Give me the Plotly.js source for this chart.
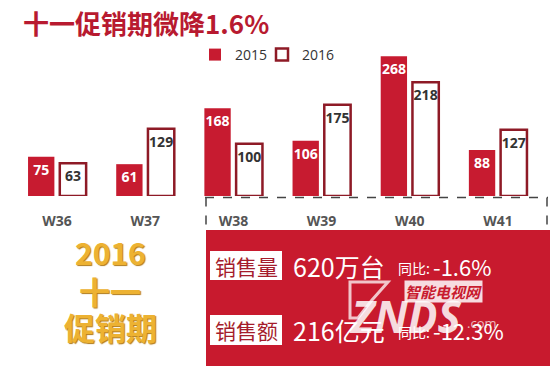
<!DOCTYPE html>
<html><head><meta charset="utf-8">
<script src="https://cdn.plot.ly/plotly-3.0.1.min.js"></script>
<style>html,body{margin:0;padding:0;background:#fff}#c{width:550px;height:366px}</style>
</head><body><div id="c"></div>
<script>
const weeks = ['W36','W37','W38','W39','W40','W41'];
const v2015 = [75, 61, 168, 106, 268, 88];
const v2016 = [63, 129, 100, 175, 218, 127];
const seriesNames = ['2015','2016'];
const titleText = '十一促销期微降1.6%';
const sideLines = ['2016','十一','促销期'];
const panelRows = [
  {label:'销售量', value:'620万台', yoyLabel:'同比:', yoy:'-1.6%'},
  {label:'销售额', value:'216亿元', yoyLabel:'同比:', yoy:'-12.3%'}
];

const W=550,H=366,L=13,R=8,T=40,B=170;
const pw=W-L-R, ph=H-T-B;
const px=x=>(x-L)/pw, py=y=>(H-B-y)/ph;
const CJK='"Noto Sans CJK SC", "Open Sans", sans-serif';
const RED='#C71B30', DARK='#8E1A26';

const traces=[
 {type:'bar',name:seriesNames[0],x:weeks,y:v2015,marker:{color:RED,line:{width:0}},legend:'legend',
  texttemplate:'<b>%{y}</b>',textposition:'inside',insidetextanchor:'end',constraintext:'none',textangle:0,
  textfont:{color:'#fff',size:14,family:'"Open Sans", sans-serif'},hoverinfo:'skip'},
 {type:'bar',name:seriesNames[1],x:weeks,y:v2016,marker:{color:'#fff',line:{width:2.5,color:DARK}},legend:'legend2',
  texttemplate:'<b>%{y}</b>',textposition:'inside',insidetextanchor:'end',constraintext:'none',textangle:0,
  textfont:{color:'#333',size:14,family:'"Open Sans", sans-serif'},hoverinfo:'skip'}
];

const shapes=[
 {type:'rect',xref:'paper',yref:'paper',x0:px(206),x1:px(551),y0:py(367),y1:py(230),fillcolor:'#C81A2E',line:{width:0},layer:'below'},
 {type:'line',xref:'paper',yref:'paper',x0:px(205),x1:px(548),y0:py(197.5),y1:py(197.5),line:{color:'#444',width:1.5,dash:'dash'}},
 {type:'line',xref:'paper',yref:'paper',x0:px(206),x1:px(206),y0:py(197.5),y1:py(232),line:{color:'#444',width:1.5,dash:'dash'}},
 {type:'line',xref:'paper',yref:'paper',x0:px(547),x1:px(547),y0:py(197.5),y1:py(232),line:{color:'#444',width:1.5,dash:'dash'}},
 {type:'rect',xref:'paper',yref:'paper',x0:px(210),x1:px(282),y0:py(280),y1:py(251),fillcolor:'#fff',line:{width:0}},
 {type:'rect',xref:'paper',yref:'paper',x0:px(210),x1:px(282),y0:py(345),y1:py(315),fillcolor:'#fff',line:{width:0}},
 // watermark TV outline
 {type:'path',xref:'paper',yref:'paper',path:'M '+px(350)+','+py(282)+' L '+px(388)+','+py(282)+' L '+px(372)+','+py(300)+' L '+px(358)+','+py(318)+' L '+px(350)+','+py(318)+' Z',
  fillcolor:'rgba(255,255,255,0)',line:{color:'rgba(255,255,255,0.75)',width:3}}
];

const ann=[
 {text:'<b>'+titleText+'</b>',xref:'paper',yref:'paper',x:px(21),y:py(23),xanchor:'left',yanchor:'middle',showarrow:false,
  font:{family:CJK,size:26,color:'#B81A30'}}
];
const sideY=[252,290,326];
sideLines.forEach((t,i)=>ann.push({text:'<b>'+t+'</b>',xref:'paper',yref:'paper',x:px(110),y:py(sideY[i]),xanchor:'center',yanchor:'middle',showarrow:false,
  font:{family:CJK,size:i===0?30:31,color:'#EDB232',shadow:'1px 1px 1px #B07A18'}}));
const rowY=[266,330];
panelRows.forEach((r,i)=>{
 ann.push({text:r.label,xref:'paper',yref:'paper',x:px(246),y:py(rowY[i]),xanchor:'center',yanchor:'middle',showarrow:false,font:{family:CJK,size:21,color:'#A51C2C'}});
 ann.push({text:r.value,xref:'paper',yref:'paper',x:px(291),y:py(rowY[i]),xanchor:'left',yanchor:'middle',showarrow:false,font:{family:CJK,size:25,color:'#fff'}});
 ann.push({text:r.yoyLabel,xref:'paper',yref:'paper',x:px(396),y:py(rowY[i]+2),xanchor:'left',yanchor:'middle',showarrow:false,font:{family:CJK,size:14,color:'#fff'}});
 ann.push({text:r.yoy,xref:'paper',yref:'paper',x:px(431),y:py(rowY[i]),xanchor:'left',yanchor:'middle',showarrow:false,font:{family:CJK,size:22,color:'#fff'}});
});
// watermark
ann.push({text:'<b><i>智能电视网</i></b>',xref:'paper',yref:'paper',x:px(443),y:py(291),xanchor:'center',yanchor:'middle',showarrow:false,bgcolor:'rgba(255,255,255,0.85)',borderpad:0,font:{family:CJK,size:15,color:'#C81A2E'}});
ann.push({text:'<b><i>ZNDS</i></b>',xref:'paper',yref:'paper',x:px(405),y:py(316),xanchor:'center',yanchor:'middle',showarrow:false,font:{family:'"Open Sans", sans-serif',size:44,color:'rgba(255,255,255,0.85)'}});
ann.push({text:'.com',xref:'paper',yref:'paper',x:px(465),y:py(323),xanchor:'left',yanchor:'middle',showarrow:false,font:{family:'"Open Sans", sans-serif',size:13,color:'rgba(255,255,255,0.7)'}});

const legFont={family:'"Open Sans", sans-serif',size:14,color:'#333'};
const layout={
 width:W,height:H,margin:{l:L,r:R,t:T,b:B},paper_bgcolor:'#fff',plot_bgcolor:'#fff',
 barmode:'group',bargap:0.28,bargroupgap:0.17,
 xaxis:{type:'category',showgrid:false,zeroline:false,showline:false,ticks:'',ticklabelstandoff:15,
   tickfont:{family:'"Open Sans", sans-serif',size:14,color:'#555',weight:'bold'}},
 yaxis:{range:[0,299],visible:false,showgrid:false,zeroline:false},
 showlegend:true,
 legend:{orientation:'h',x:px(195),y:py(55),xanchor:'left',yanchor:'middle',bgcolor:'rgba(0,0,0,0)',font:legFont,itemwidth:30},
 legend2:{orientation:'h',x:px(262),y:py(55),xanchor:'left',yanchor:'middle',bgcolor:'rgba(0,0,0,0)',font:legFont,itemwidth:30},
 shapes:shapes,annotations:ann
};
Plotly.newPlot('c',traces,layout,{displayModeBar:false,staticPlot:true});
</script></body></html>
